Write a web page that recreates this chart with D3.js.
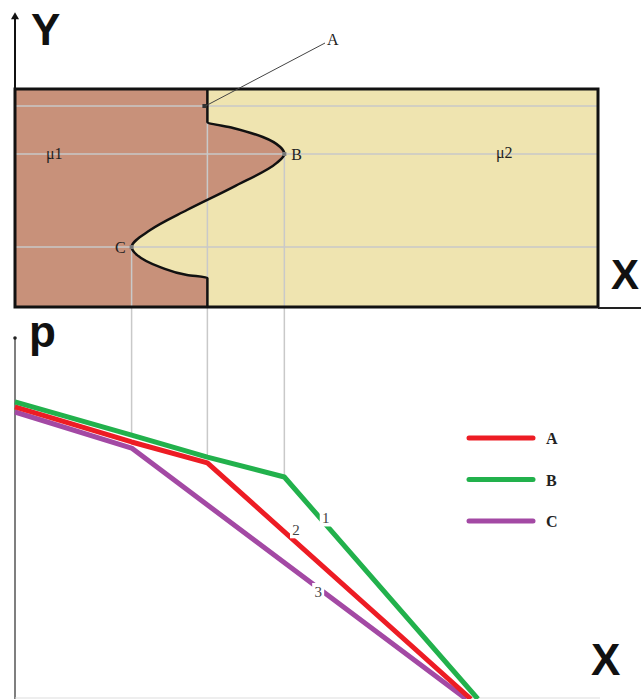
<!DOCTYPE html>
<html>
<head>
<meta charset="utf-8">
<script src="https://cdn.jsdelivr.net/npm/d3@7"></script>
<style>
  body { margin: 0; background: #fff; }
  svg { display: block; }
</style>
</head>
<body>
<div id="chart"></div>
<script>
// ---- data ----
// interface positions along X (C, A, B)
var pointNames = ["C", "A", "B"];
var pointX = [2.0, 3.3, 4.62];
var pointY = [0.275, 0.922, 0.702];   // height in the top panel

// the wavy interface between mu1 and mu2 (x, y pairs along the height)
var interfaceX = [3.3, 3.3, 3.74, 4.25, 4.55, 4.62, 4.49, 3.74, 2.95, 2.32, 2.0, 2.09, 2.49, 2.95, 3.3, 3.3];
var interfaceY = [1.0, 0.849, 0.821, 0.780, 0.734, 0.702, 0.661, 0.550, 0.445, 0.353, 0.275, 0.239, 0.183, 0.147, 0.133, 0.0];

// pressure curves
var seriesNames = ["A", "B", "C"];
var seriesColors = ["#ed1c24", "#22b14c", "#a349a4"];
var xA = [0, 2.0, 3.3, 7.82];
var pA = [0.809, 0.712, 0.654, 0];
var xB = [0, 2.0, 3.3, 4.62, 7.94];
var pB = [0.823, 0.731, 0.670, 0.615, 0];
var xC = [0, 2.0, 7.74];
var pC = [0.795, 0.695, 0];

// numbered labels on the curves: which series, where along x
var numLabels = ["1", "2", "3"];
var numSeries = ["B", "A", "C"];
var numX = [5.33, 4.82, 5.20];

var W = 641, H = 699;

var svg = d3.select("#chart").append("svg")
  .attr("width", W)
  .attr("height", H);

var x = d3.scaleLinear().domain([0, 10]).range([15, 598]);
var yTop = d3.scaleLinear().domain([0, 1]).range([307, 89]);
var yBot = d3.scaleLinear().domain([0, 1]).range([699, 338]);

function zip(xs, ys) {
  return xs.map(function(v, i) { return [v, ys[i]]; });
}
var series = {
  A: zip(xA, pA),
  B: zip(xB, pB),
  C: zip(xC, pC)
};

// value of a series at some x (straight segments)
function pAt(name, xv) {
  var s = series[name];
  for (var i = 1; i < s.length; i++) {
    if (xv <= s[i][0]) {
      var t = (xv - s[i-1][0]) / (s[i][0] - s[i-1][0]);
      return s[i-1][1] + t * (s[i][1] - s[i-1][1]);
    }
  }
  return s[s.length - 1][1];
}

// ---- top panel ----
svg.append("rect")
  .attr("x", x(0)).attr("y", yTop(1))
  .attr("width", x(10) - x(0)).attr("height", yTop(0) - yTop(1))
  .attr("fill", "#efe4b0");

var iface = zip(interfaceX, interfaceY);

var brown = d3.area()
  .y(function(d) { return yTop(d[1]); })
  .x0(x(0))
  .x1(function(d) { return x(d[0]); })
  .curve(d3.curveMonotoneY);

svg.append("path")
  .datum(iface)
  .attr("d", brown)
  .attr("fill", "#c8917a");

// gray guide lines
var grid = svg.append("g").attr("stroke", "#c9c9c9").attr("stroke-width", 1.5);
pointY.forEach(function(v) {
  grid.append("line")
    .attr("x1", x(0)).attr("x2", x(10))
    .attr("y1", yTop(v)).attr("y2", yTop(v));
});
pointNames.forEach(function(n, i) {
  grid.append("line")
    .attr("x1", x(pointX[i])).attr("x2", x(pointX[i]))
    .attr("y1", yTop(pointY[i])).attr("y2", yBot(pAt("B", pointX[i])));
});

var ifaceLine = d3.line()
  .x(function(d) { return x(d[0]); })
  .y(function(d) { return yTop(d[1]); })
  .curve(d3.curveMonotoneY);

svg.append("path")
  .datum(iface)
  .attr("d", ifaceLine)
  .attr("fill", "none")
  .attr("stroke", "#111")
  .attr("stroke-width", 2.5);

// frame
svg.append("rect")
  .attr("x", x(0)).attr("y", yTop(1))
  .attr("width", x(10) - x(0)).attr("height", yTop(0) - yTop(1))
  .attr("fill", "none")
  .attr("stroke", "#111")
  .attr("stroke-width", 3);

// X axis continues to the right
svg.append("line")
  .attr("x1", x(10)).attr("x2", W)
  .attr("y1", yTop(0) + 1).attr("y2", yTop(0) + 1)
  .attr("stroke", "#222").attr("stroke-width", 2);

// Y axis with arrow
svg.append("line")
  .attr("x1", x(0)).attr("x2", x(0))
  .attr("y1", yTop(1)).attr("y2", 18)
  .attr("stroke", "#111").attr("stroke-width", 2);
svg.append("path")
  .attr("d", d3.symbol().type(d3.symbolTriangle).size(28)())
  .attr("transform", "translate(" + x(0) + ",17)")
  .attr("fill", "#111");

// point markers
pointNames.forEach(function(n, i) {
  svg.append("rect")
    .attr("x", x(pointX[i]) - (n == "A" ? 5 : 2)).attr("y", yTop(pointY[i]) - 2)
    .attr("width", 4).attr("height", 4)
    .attr("fill", n == "A" ? "#333" : "#777");
});

var serif = "'Liberation Serif', 'DejaVu Serif', serif";

// leader for A
svg.append("line")
  .attr("x1", x(pointX[1]) - 2).attr("y1", yTop(pointY[1]))
  .attr("x2", 325).attr("y2", 43)
  .attr("stroke", "#444").attr("stroke-width", 1);

svg.append("text").attr("x", 327).attr("y", 45).text("A")
  .attr("font-family", serif).attr("font-size", 16).attr("fill", "#222");
svg.append("text").attr("x", x(pointX[2]) + 7).attr("y", yTop(pointY[2]) + 6).text("B")
  .attr("font-family", serif).attr("font-size", 16).attr("fill", "#222");
svg.append("text").attr("x", x(pointX[0]) - 6).attr("y", yTop(pointY[0]) + 6).text("C")
  .attr("text-anchor", "end")
  .attr("font-family", serif).attr("font-size", 16).attr("fill", "#222");
svg.append("text").attr("x", 46).attr("y", yTop(pointY[2]) + 5).text("μ1")
  .attr("font-family", serif).attr("font-size", 16).attr("fill", "#222");
svg.append("text").attr("x", 496).attr("y", yTop(pointY[2]) + 4).text("μ2")
  .attr("font-family", serif).attr("font-size", 16).attr("fill", "#222");

var sans = "'Liberation Sans', Arial, sans-serif";
svg.append("text").attr("x", 31).attr("y", 45).text("Y")
  .attr("font-family", sans).attr("font-weight", "bold").attr("font-size", 44).attr("fill", "#111");
svg.append("text").attr("x", 611).attr("y", 289).text("X")
  .attr("font-family", sans).attr("font-weight", "bold").attr("font-size", 42).attr("fill", "#111");

// ---- bottom panel ----
svg.append("line")
  .attr("x1", x(0)).attr("x2", x(0))
  .attr("y1", yBot(1)).attr("y2", H)
  .attr("stroke", "#555").attr("stroke-width", 1.5);
svg.append("circle")
  .attr("cx", x(0)).attr("cy", yBot(1)).attr("r", 1.8).attr("fill", "#222");
svg.append("line")
  .attr("x1", x(0)).attr("x2", 600)
  .attr("y1", H - 1).attr("y2", H - 1)
  .attr("stroke", "#ddd").attr("stroke-width", 1);

svg.append("text").attr("x", 29).attr("y", 347).text("p")
  .attr("font-family", sans).attr("font-weight", "bold").attr("font-size", 44).attr("fill", "#111");
svg.append("text").attr("x", 591).attr("y", 675).text("X")
  .attr("font-family", sans).attr("font-weight", "bold").attr("font-size", 44).attr("fill", "#111");

var line = d3.line()
  .x(function(d) { return x(d[0]); })
  .y(function(d) { return yBot(d[1]); });

svg.append("g")
  .selectAll("path")
  .data(["C", "A", "B"])
  .join("path")
  .attr("d", function(n) { return line(series[n]); })
  .attr("fill", "none")
  .attr("stroke", function(n) { return seriesColors[seriesNames.indexOf(n)]; })
  .attr("stroke-width", 5)
  .attr("stroke-linejoin", "round");

// numbered labels with white gap behind
var nl = svg.append("g");
numLabels.forEach(function(t, i) {
  var cx = x(numX[i]);
  var cy = yBot(pAt(numSeries[i], numX[i]));
  var dy = (t == "2") ? -12 : (t == "1" ? -6 : 4);
  nl.append("rect")
    .attr("x", cx - 6).attr("y", cy + dy - 9)
    .attr("width", 12).attr("height", 17)
    .attr("fill", "#fff");
  nl.append("text")
    .attr("x", cx).attr("y", cy + dy + 5)
    .attr("text-anchor", "middle")
    .attr("font-family", serif).attr("font-size", 15).attr("fill", "#444")
    .text(t);
});

// legend
var lg = svg.append("g").attr("transform", "translate(469,438)");
seriesNames.forEach(function(n, i) {
  lg.append("line")
    .attr("x1", 0).attr("x2", 64)
    .attr("y1", i * 41.5).attr("y2", i * 41.5)
    .attr("stroke", seriesColors[i])
    .attr("stroke-width", 5)
    .attr("stroke-linecap", "round");
  lg.append("text")
    .attr("x", 77).attr("y", i * 41.5 + 6)
    .attr("font-family", serif).attr("font-size", 16).attr("font-weight", "bold")
    .attr("fill", "#222")
    .text(n);
});
</script>
</body>
</html>
